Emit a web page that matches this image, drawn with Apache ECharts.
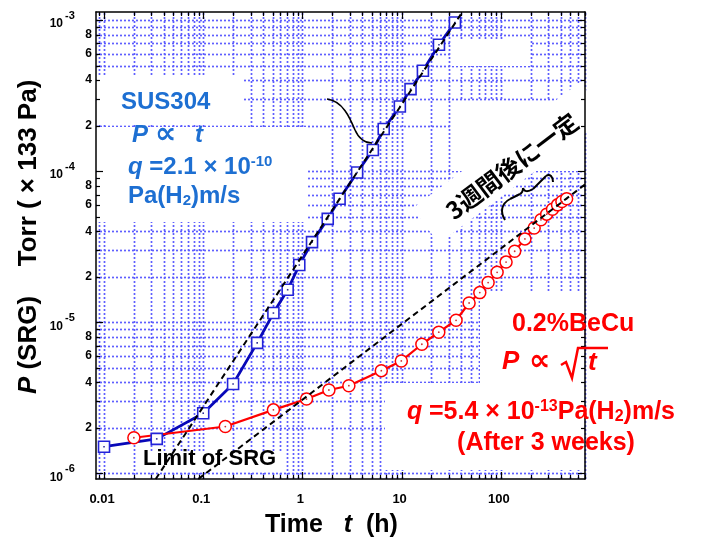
<!DOCTYPE html>
<html><head><meta charset="utf-8">
<script src="https://cdn.jsdelivr.net/npm/echarts@6/dist/echarts.min.js"></script>
<style>html,body{margin:0;padding:0;background:#fff}#c{width:702px;height:539px}</style>
</head><body><div id="c"></div>
<script>
// ---- axis ranges ----
const X_MIN = 0.0083, X_MAX = 706;
const Y_MIN = 0.917e-6, Y_MAX = 1.13e-3;

// ---- data ----
const susTime = [0.01, 0.034, 0.1, 0.2, 0.35, 0.51, 0.71, 0.93, 1.25, 1.8, 2.37, 3.56, 5.13, 6.6, 9.6, 12.3, 16.4, 23.8, 34.5];
const susPressure = [1.5e-6, 1.69e-6, 2.5e-6, 3.9e-6, 7.3e-6, 1.15e-5, 1.64e-5, 2.39e-5, 3.39e-5, 4.83e-5, 6.56e-5, 9.8e-5, 1.38e-4, 1.9e-4, 2.68e-4, 3.49e-4, 4.62e-4, 6.86e-4, 9.64e-4];
const becuTime = [0.02, 0.167, 0.51, 1.1, 1.85, 2.94, 6.24, 9.93, 16, 23.7, 35.4, 47.9, 61.4, 74.5, 91.8, 113, 138, 175, 217, 254, 290, 332, 373, 413, 461];
const becuPressure = [1.72e-6, 2.04e-6, 2.63e-6, 3.1e-6, 3.56e-6, 3.8e-6, 4.78e-6, 5.54e-6, 7.15e-6, 8.59e-6, 1.03e-5, 1.34e-5, 1.57e-5, 1.83e-5, 2.14e-5, 2.5e-5, 2.95e-5, 3.56e-5, 4.2e-5, 4.76e-5, 5.19e-5, 5.6e-5, 5.98e-5, 6.29e-5, 6.56e-5];
// guide lines (P ∝ t and P ∝ √t), end points
const susGuide = [[0.0332, 0.917e-6], [39.5, 1.09e-3]];
const becuGuide = [[0.0892, 0.917e-6], [706, 8.16e-5]];

// ---- ticks / labels ----
const mantissas = [1, 2, 3, 4, 5, 6, 7, 8, 9];
const xDecades = [0.001, 0.01, 0.1, 1, 10, 100];
const yDecades = [1e-7, 1e-6, 1e-5, 1e-4, 1e-3];
const xTickValues = [0.01, 0.1, 1, 10, 100];
const xTickLabels = ['0.01', '0.1', '1', '10', '100'];
const yMajorValues = [1e-6, 1e-5, 1e-4, 1e-3];
const yMajorExps = ['-6', '-5', '-4', '-3'];
const yMinorValues = [2e-6, 4e-6, 6e-6, 8e-6, 2e-5, 4e-5, 6e-5, 8e-5, 2e-4, 4e-4, 6e-4, 8e-4];
const yMinorLabels = ['2', '4', '6', '8', '2', '4', '6', '8', '2', '4', '6', '8'];

function gridVals(decades, lo, hi) {
  const out = [];
  decades.forEach(d => mantissas.forEach(m => {
    const v = +(m * d).toPrecision(6);
    if (v > lo * 1.0001 && v < hi * 0.9999) out.push([v, m === 1 ? 1 : 0]);
  }));
  return out;
}
const xGrid = gridVals(xDecades, X_MIN, X_MAX);
const yGrid = gridVals(yDecades, Y_MIN, Y_MAX);

const FONT = '"Liberation Sans", Arial, "DejaVu Sans", sans-serif';
const GRID_COLOR = '#5f5fff';
const SUS_COLOR = '#1d6fd2';
const RED = '#ff0000';

const chart = echarts.init(document.getElementById('c'));

function lineEl(x1, y1, x2, y2, style) {
  return {type: 'line', shape: {x1, y1, x2, y2}, style};
}
const gridStyle = {stroke: GRID_COLOR, lineWidth: 1.7, lineDash: [2, 2]};

const series = [
  {type: 'custom', z: 1, silent: true,
    data: xGrid.map(g => [g[0], Y_MIN, g[1]]),
    renderItem: (p, api) => {
      const v = api.value(0);
      const a = api.coord([v, Y_MIN]), b = api.coord([v, Y_MAX]);
      const x = Math.round(a[0]) + 0.5;
      return lineEl(x, a[1], x, b[1], gridStyle);
    }},
  {type: 'custom', z: 1, silent: true,
    data: yGrid.map(g => [X_MIN, g[0], g[1]]),
    renderItem: (p, api) => {
      const v = api.value(1);
      const a = api.coord([X_MIN, v]), b = api.coord([X_MAX, v]);
      const y = Math.round(a[1]) + 0.5;
      return lineEl(a[0], y, b[0], y, gridStyle);
    }},
  {type: 'custom', z: 6, silent: true,
    data: xGrid.map(g => [g[0], Y_MIN, g[1]]),
    renderItem: (p, api) => {
      const v = api.value(0), major = api.value(2) === 1;
      const a = api.coord([v, Y_MIN]), b = api.coord([v, Y_MAX]);
      const L = major ? 7 : 4, x = Math.round(a[0]) + 0.5;
      const st = {stroke: '#000', lineWidth: 1.2};
      return {type: 'group', children: [lineEl(x, a[1], x, a[1] - L, st), lineEl(x, b[1], x, b[1] + L, st)]};
    }},
  {type: 'custom', z: 6, silent: true,
    data: yGrid.map(g => [X_MIN, g[0], g[1]]),
    renderItem: (p, api) => {
      const v = api.value(1), major = api.value(2) === 1;
      const a = api.coord([X_MIN, v]), b = api.coord([X_MAX, v]);
      const L = major ? 7 : 4, y = Math.round(a[1]) + 0.5;
      const st = {stroke: '#000', lineWidth: 1.2};
      return {type: 'group', children: [lineEl(a[0], y, a[0] + L, y, st), lineEl(b[0], y, b[0] - L, y, st)]};
    }},
  {type: 'custom', z: 6, silent: true,
    data: xTickValues.map(v => [v, Y_MIN]),
    renderItem: (p, api) => {
      const a = api.coord([api.value(0), Y_MIN]);
      return {type: 'text', x: a[0] - 2, y: a[1] + 20,
        style: {text: xTickLabels[p.dataIndex], fill: '#000', font: 'bold 13px ' + FONT,
          align: 'center', verticalAlign: 'middle'}};
    }},
  {type: 'custom', z: 6, silent: true,
    data: yMajorValues.map(v => [X_MIN, v]),
    renderItem: (p, api) => {
      const a = api.coord([X_MIN, api.value(1)]);
      return {type: 'group', children: [
        {type: 'text', x: a[0] - 33, y: a[1] + 4,
          style: {text: '10', fill: '#000', font: 'bold 12px ' + FONT, align: 'right', verticalAlign: 'middle'}},
        {type: 'text', x: a[0] - 31, y: a[1] - 4,
          style: {text: yMajorExps[p.dataIndex], fill: '#000', font: 'bold 11px ' + FONT, align: 'left', verticalAlign: 'middle'}}
      ]};
    }},
  {type: 'custom', z: 6, silent: true,
    data: yMinorValues.map(v => [X_MIN, v]),
    renderItem: (p, api) => {
      const a = api.coord([X_MIN, api.value(1)]);
      return {type: 'text', x: a[0] - 4, y: a[1],
        style: {text: yMinorLabels[p.dataIndex], fill: '#000', font: 'bold 12px ' + FONT,
          align: 'right', verticalAlign: 'middle'}};
    }},
  {type: 'line', z: 3, data: susTime.map((t, i) => [t, susPressure[i]]),
    symbol: 'rect', symbolSize: 11, showAllSymbol: true,
    lineStyle: {color: '#0808b8', width: 2.8},
    itemStyle: {color: '#fff', borderColor: '#2424d8', borderWidth: 1.6}},
  {type: 'scatter', z: 3.5, silent: true, data: susTime.map((t, i) => [t, susPressure[i]]),
    symbol: 'rect', symbolSize: 1.6, itemStyle: {color: '#000080'}},
  {type: 'line', z: 3, data: becuTime.map((t, i) => [t, becuPressure[i]]),
    symbol: 'circle', symbolSize: 12, showAllSymbol: true,
    lineStyle: {color: RED, width: 2.2},
    itemStyle: {color: '#fff', borderColor: RED, borderWidth: 1.5}},
  {type: 'scatter', z: 3.5, silent: true, data: becuTime.map((t, i) => [t, becuPressure[i]]),
    symbol: 'circle', symbolSize: 1.8, itemStyle: {color: '#c00000'}},
  {type: 'line', z: 4, data: susGuide, symbol: 'none', silent: true,
    lineStyle: {color: '#000', width: 2, type: [6, 4]}},
  {type: 'line', z: 4, data: becuGuide, symbol: 'none', silent: true,
    lineStyle: {color: '#000', width: 2, type: [6, 4]}}
];

function rect(x, y, w, h) {
  return {type: 'rect', z: 2, silent: true, shape: {x, y, width: w, height: h}, style: {fill: '#fff'}};
}
function txt(x, y, text, opt) {
  return {type: 'text', z: 10, silent: true, x, y,
    style: Object.assign({text, fill: '#000', font: 'bold 24px ' + FONT,
      align: 'left', verticalAlign: 'middle'}, opt || {})};
}
const richSet = (color, size) => ({
  i: {fontStyle: 'italic', fontWeight: 'bold', fontSize: size, fontFamily: FONT, fill: color},
  s: {fontWeight: 'bold', fontSize: Math.round(size * 0.62), fontFamily: FONT, fill: color, verticalAlign: 'top', padding: [0, 0, 10, 0]},
  b: {fontWeight: 'bold', fontSize: Math.round(size * 0.62), fontFamily: FONT, fill: color, verticalAlign: 'bottom', padding: [8, 0, 0, 0]},
  n: {fontWeight: 'bold', fontSize: size, fontFamily: FONT, fill: color}
});
function bez(x1, y1, c1x, c1y, c2x, c2y, x2, y2, w) {
  return {type: 'bezierCurve', z: 10, silent: true,
    shape: {x1, y1, cpx1: c1x, cpy1: c1y, cpx2: c2x, cpy2: c2y, x2, y2},
    style: {stroke: '#000', lineWidth: w, fill: null}};
}
function seg(x1, y1, x2, y2, w) {
  return {type: 'line', z: 10, silent: true, shape: {x1, y1, x2, y2}, style: {stroke: '#000', lineWidth: w}};
}

const graphic = [
  rect(97, 77, 146, 47),
  rect(97, 127, 211, 95),
  rect(452, 40, 78, 26),
  rect(452, 101, 131, 70),
  {type: 'rect', z: 2, silent: true, x: 512, y: 166, rotation: 37 * Math.PI / 180,
    shape: {x: -105, y: -26, width: 210, height: 44}, style: {fill: '#fff'}},
  rect(480, 293, 103, 90),
  rect(385, 383, 198, 87),
  rect(140, 452, 146, 20),

  {type: 'text', z: 10, silent: true, x: 29, y: 345, rotation: Math.PI / 2,
    style: {text: '{i|P} {n|(SRG)}', rich: richSet('#000', 26), font: 'bold 26px ' + FONT,
      align: 'center', verticalAlign: 'middle'}},
  {type: 'text', z: 10, silent: true, x: 29, y: 173, rotation: Math.PI / 2,
    style: {text: 'Torr ( × 133 Pa)', fill: '#000', font: 'bold 26px ' + FONT,
      align: 'center', verticalAlign: 'middle'}},
  {type: 'text', z: 10, silent: true, x: 265, y: 525,
    style: {text: '{n|Time}   {i|t}  {n|(h)}', rich: richSet('#000', 25), font: 'bold 25px ' + FONT,
      align: 'left', verticalAlign: 'middle'}},

  txt(121, 102, 'SUS304', {fill: SUS_COLOR}),
  txt(132, 135, 'P', {fill: SUS_COLOR, font: 'italic bold 24px ' + FONT}),
  txt(155, 135, '∝', {fill: SUS_COLOR, font: 'bold 30px ' + FONT}),
  txt(195, 135, 't', {fill: SUS_COLOR, font: 'italic bold 24px ' + FONT}),
  txt(128, 167, '{i|q} {n|=2.1 × 10}{s|-10}', {rich: richSet(SUS_COLOR, 24), fill: SUS_COLOR}),
  txt(128, 196, '{n|Pa(H}{b|2}{n|)m/s}', {rich: richSet(SUS_COLOR, 24), fill: SUS_COLOR}),

  txt(512, 324, '0.2%BeCu', {fill: RED, font: 'bold 25px ' + FONT}),
  txt(502, 362, 'P', {fill: RED, font: 'italic bold 26px ' + FONT}),
  txt(529, 362, '∝', {fill: RED, font: 'bold 30px ' + FONT}),
  txt(588, 363, 't', {fill: RED, font: 'italic bold 26px ' + FONT}),
  {type: 'polyline', z: 10, silent: true,
    shape: {points: [[561, 365], [566, 362], [572, 378], [578, 348], [608, 348]]},
    style: {stroke: RED, lineWidth: 2.5, fill: null}},
  txt(407, 412, '{i|q} {n|=5.4 × 10}{s|-13}{n|Pa(H}{b|2}{n|)m/s}', {rich: richSet(RED, 25), fill: RED}),
  txt(546, 443, '(After 3 weeks)', {fill: RED, font: 'bold 25px ' + FONT, align: 'center'}),

  txt(143, 459, 'Limit of SRG', {font: 'bold 22px ' + FONT}),
  {type: 'text', z: 10, silent: true, x: 512, y: 166, rotation: 37 * Math.PI / 180,
    style: {text: '3週間後に一定', fill: '#000', font: 'bold 24px "Noto Sans CJK JP", sans-serif',
      align: 'center', verticalAlign: 'middle'}},

  bez(327, 99, 343, 101, 350, 118, 355, 130, 1.6),
  bez(355, 130, 359, 139, 364, 143, 372, 143, 1.6),
  bez(505, 220, 500, 212, 501, 204, 510, 199, 2),
  seg(510, 199, 520, 194, 2),
  bez(520, 194, 522, 193, 523, 190, 523, 188, 2),
  bez(523, 188, 524, 192, 528, 192, 533, 189, 2),
  seg(533, 189, 546, 176, 2),
  bez(546, 176, 550, 173, 553, 177, 553, 182, 2)
];

const axisCommon = {
  axisLine: {show: true, onZero: false, lineStyle: {color: '#000', width: 1.5}},
  axisTick: {show: false}, axisLabel: {show: false}, splitLine: {show: false}, z: 8
};

chart.setOption({
  animation: false,
  backgroundColor: '#fff',
  grid: {left: 96, top: 12, width: 489, height: 467, containLabel: false},
  xAxis: [
    Object.assign({type: 'log', min: X_MIN, max: X_MAX, position: 'bottom'}, axisCommon),
    Object.assign({type: 'log', min: X_MIN, max: X_MAX, position: 'top'}, axisCommon)
  ],
  yAxis: [
    Object.assign({type: 'log', min: Y_MIN, max: Y_MAX, position: 'left'}, axisCommon),
    Object.assign({type: 'log', min: Y_MIN, max: Y_MAX, position: 'right'}, axisCommon)
  ],
  series,
  graphic
});
</script>
</body></html>
